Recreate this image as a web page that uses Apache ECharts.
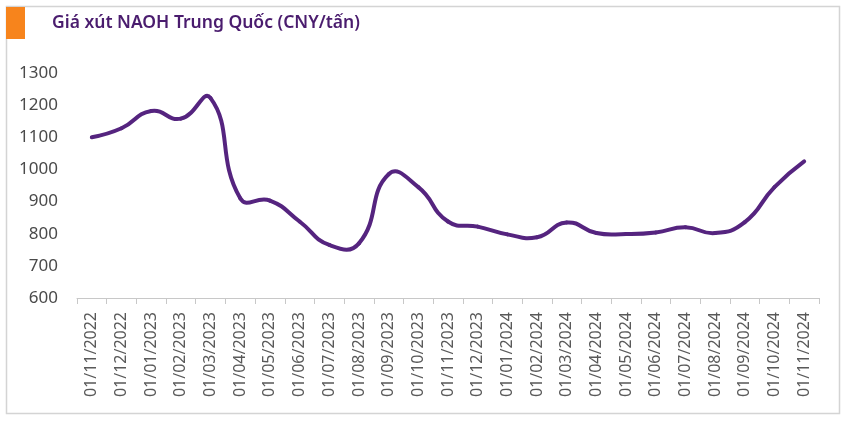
<!DOCTYPE html>
<html>
<head>
<meta charset="utf-8">
<script src="https://cdn.jsdelivr.net/npm/echarts@6/dist/echarts.min.js"></script>
<style>
html,body{margin:0;padding:0;background:#fff;}
#c{width:850px;height:422px;}
</style>
</head>
<body>
<div id="c"></div>
<script>
const titleText = 'Giá xút NAOH Trung Quốc (CNY/tấn)';
const categories = ['01/11/2022','01/12/2022','01/01/2023','01/02/2023','01/03/2023','01/04/2023','01/05/2023','01/06/2023','01/07/2023','01/08/2023','01/09/2023','01/10/2023','01/11/2023','01/12/2023','01/01/2024','01/02/2024','01/03/2024','01/04/2024','01/05/2024','01/06/2024','01/07/2024','01/08/2024','01/09/2024','01/10/2024','01/11/2024'];
const prices = [1100,1128,1182,1158,1222,910,903,838,765,770,985,945,838,822,798,789,835,802,799,804,820,802,836,945,1025];
const yMin = 600, yMax = 1300, yStep = 100;

const SMOOTH = 0.5;
function renderSeg(params, api){
  const i = params.dataIndex;
  const n = prices.length;
  if (i >= n - 1) return null;
  const P = k => api.coord([Math.max(0, Math.min(n-1, k)), prices[Math.max(0, Math.min(n-1, k))]]);
  const p0 = P(i-1), p1 = P(i), p2 = P(i+1), p3 = P(i+2);
  const len = (a,b) => Math.hypot(a[0]-b[0], a[1]-b[1]);
  let c1 = p1.slice();
  if (i > 0) {
    const lp = len(p0,p1), ln = len(p1,p2);
    const r = ln / (lp + ln);
    c1 = [p1[0] + (p2[0]-p0[0])*SMOOTH*r, p1[1] + (p2[1]-p0[1])*SMOOTH*r];
  }
  let c2 = p2.slice();
  if (i + 2 <= n - 1) {
    const lp = len(p1,p2), ln = len(p2,p3);
    const r = lp / (lp + ln);
    c2 = [p2[0] - (p3[0]-p1[0])*SMOOTH*r, p2[1] - (p3[1]-p1[1])*SMOOTH*r];
  }
  return {
    type:'bezierCurve',
    shape:{x1:p1[0],y1:p1[1],x2:p2[0],y2:p2[1],cpx1:c1[0],cpy1:c1[1],cpx2:c2[0],cpy2:c2[1]},
    style:{stroke:'#55247f',lineWidth:4,fill:null,lineCap:'round'}
  };
}

const chart = echarts.init(document.getElementById('c'), null, {renderer:'canvas'});
chart.setOption({
  animation:false,
  backgroundColor:'#ffffff',
  graphic:[
    {type:'rect', shape:{x:6.5,y:6.5,width:833,height:407}, style:{fill:'none',stroke:'#d4d4d4',lineWidth:1.5}, z:0},
    {type:'rect', shape:{x:6,y:7,width:19,height:32}, style:{fill:'#f7841c'}, z:1},
    {type:'text', left:52, top:14, style:{text:titleText, font:'600 17.5px "Noto Sans"', fill:'#4a1c6e'}, z:1}
  ],
  grid:{left:77, right:31, top:73, bottom:124},
  xAxis:{
    type:'category',
    data:categories,
    boundaryGap:true,
    axisLine:{lineStyle:{color:'#c8c8c8',width:1}},
    axisTick:{show:true,alignWithLabel:false,length:6,lineStyle:{color:'#c8c8c8'}},
    axisLabel:{rotate:90,interval:0,margin:14,color:'#595959',fontFamily:'Noto Sans',fontSize:16}
  },
  yAxis:{
    type:'value',
    min:yMin,max:yMax,interval:yStep,
    axisLine:{show:false},
    axisTick:{show:false},
    splitLine:{show:false},
    axisLabel:{margin:19,color:'#4a4a4a',fontFamily:'Noto Sans',fontSize:17,formatter:v=>String(v)}
  },
  series:[{
    type:'custom',
    renderItem:renderSeg,
    data:prices.map((v,i)=>[i,v]),
    encode:{x:0,y:1},
    clip:false
  }]
});
</script>
</body>
</html>
